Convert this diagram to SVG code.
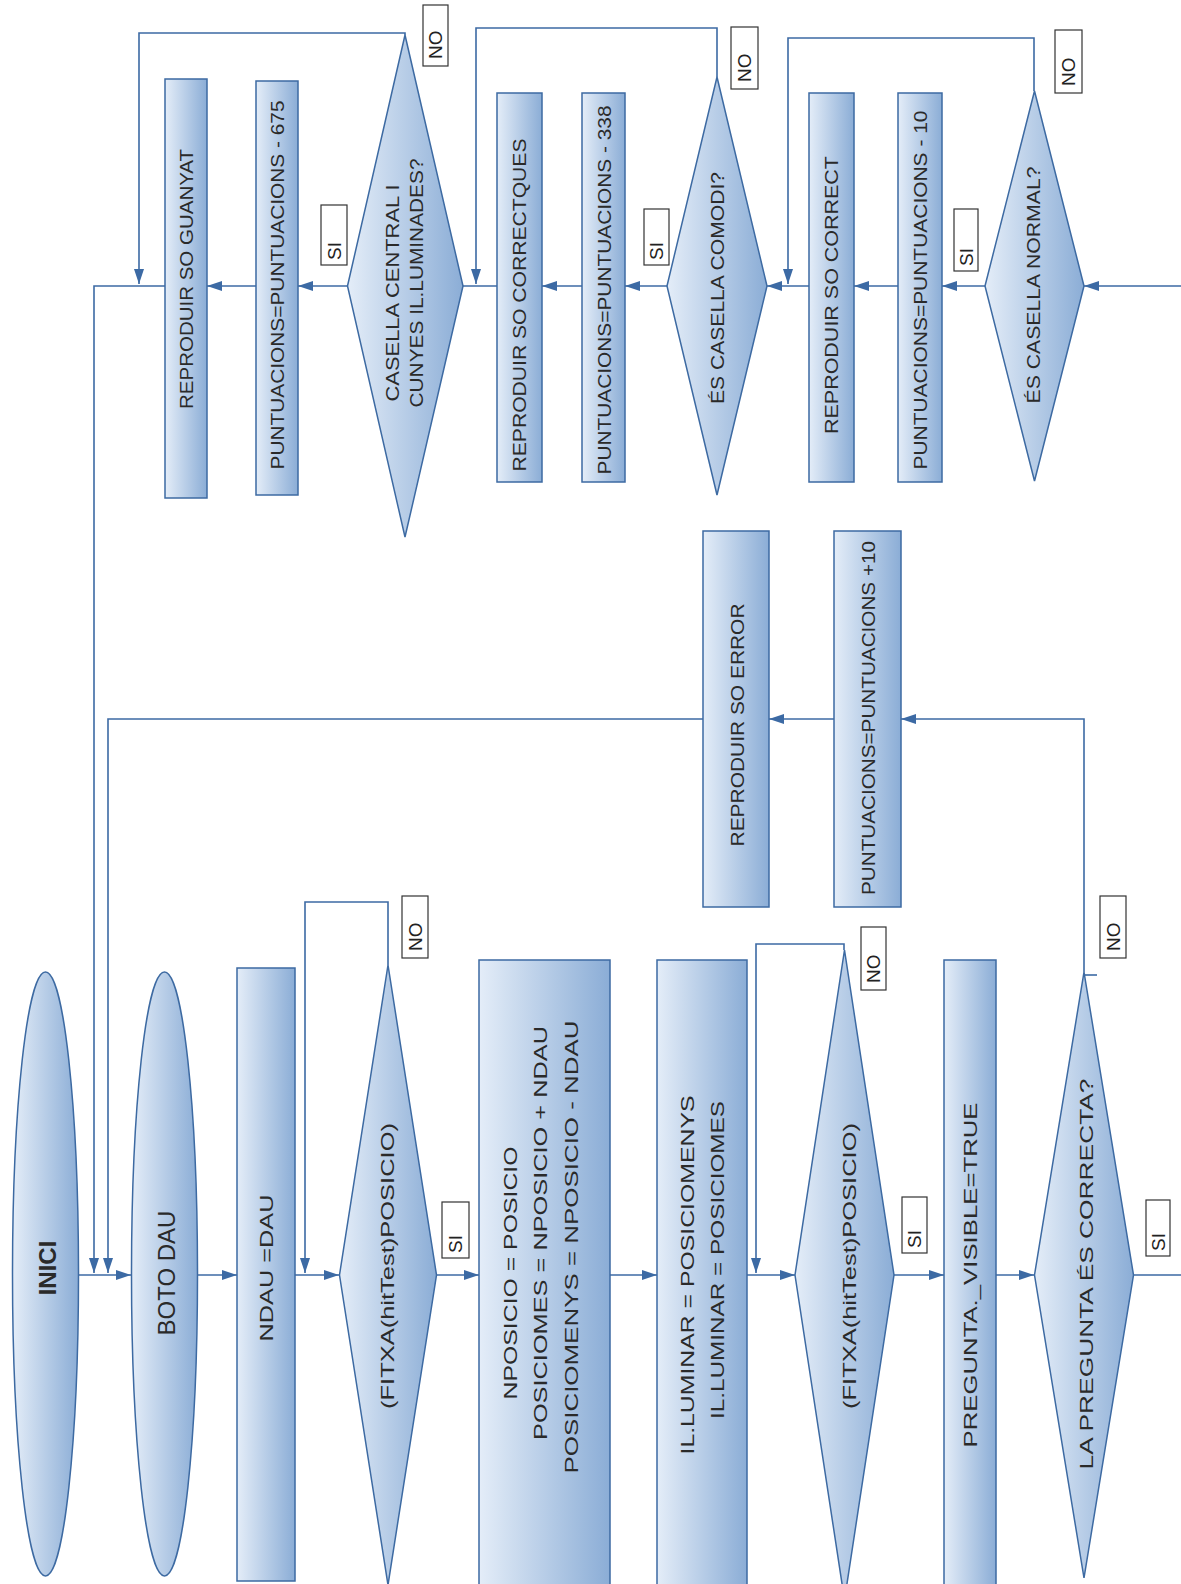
<svg xmlns="http://www.w3.org/2000/svg" width="1181" height="1584" viewBox="0 0 1181 1584">
<defs>
<linearGradient id="g" x1="0" y1="0" x2="1" y2="0">
<stop offset="0" stop-color="#e4edf8"/>
<stop offset="1" stop-color="#8badd6"/>
</linearGradient>
<marker id="ah" viewBox="0 0 15 10" refX="15" refY="5" markerWidth="15" markerHeight="10" markerUnits="userSpaceOnUse" orient="auto">
<path d="M0,0 L15,5 L0,10 z" fill="#3c6aa4"/>
</marker>
<style>
.s{fill:url(#g);stroke:#3d6aa2;stroke-width:1.5}
.t{font-family:"Liberation Sans",Arial,sans-serif;font-size:19px;fill:#2a2a2a;text-anchor:middle;dominant-baseline:central}
.b{font-size:24px;font-weight:bold}
.m{font-size:24px}
.lb{fill:#fff;stroke:#333;stroke-width:1.2}
.lt{font-family:"Liberation Sans",Arial,sans-serif;font-size:19px;fill:#222;text-anchor:start;dominant-baseline:central}
.c{fill:none;stroke:#3c6aa4;stroke-width:1.6}
.a{marker-end:url(#ah)}
</style>
</defs>
<rect width="1181" height="1584" fill="#fff"/>

<g id="connectors">
<path class="c a" d="M79,1275 H131"/>
<path class="c a" d="M198,1275 H237"/>
<path class="c a" d="M295,1275 H339"/>
<path class="c a" d="M436,1275 H479"/>
<path class="c a" d="M610,1275 H657"/>
<path class="c a" d="M747,1275 H795"/>
<path class="c a" d="M894,1275 H944"/>
<path class="c a" d="M996,1275 H1034"/>
<path class="c a" d="M1133,1275 H1183 V286 H1084"/>
<path class="c a" d="M388,965 V902 H305 V1273"/>
<path class="c a" d="M844,950 V944 H756 V1273"/>
<path class="c a" d="M1084,972 V719 H901"/>
<path class="c" d="M1084,975 H1097"/>
<path class="c a" d="M834,719 H769"/>
<path class="c a" d="M703,719 H108 V1273"/>
<path class="c a" d="M985,286 H942"/>
<path class="c a" d="M898,286 H854"/>
<path class="c a" d="M809,286 H767"/>
<path class="c a" d="M667,286 H625"/>
<path class="c a" d="M582,286 H542"/>
<path class="c" d="M497,286 H463"/>
<path class="c a" d="M347,286 H298"/>
<path class="c a" d="M256,286 H207"/>
<path class="c a" d="M165,286 H94 V1273"/>
<path class="c a" d="M1034,91 V38 H788 V284"/>
<path class="c a" d="M717,77 V28 H476 V284"/>
<path class="c a" d="M405,35 V33 H139 V284"/>
</g>

<g id="inici"><ellipse class="s" cx="45.5" cy="1274" rx="33" ry="302"/><text class="t b" transform="translate(47,1268) rotate(-90)">INICI</text></g>
<g id="boto-dau"><ellipse class="s" cx="164.5" cy="1274" rx="33" ry="302"/><text class="t m" transform="translate(166,1273) rotate(-90)">BOTO DAU</text></g>
<g id="ndau"><rect class="s" x="237" y="968" width="58" height="613"/><text class="t" transform="translate(266,1268) rotate(-90)" textLength="147" lengthAdjust="spacingAndGlyphs">NDAU =DAU</text></g>
<g id="fitxa1"><polygon class="s" points="339.5,1275 388,965 436.5,1275 388,1585"/><text class="t" transform="translate(387,1266) rotate(-90)" textLength="286" lengthAdjust="spacingAndGlyphs">(FITXA(hitTest)POSICIO)</text></g>
<g id="nposicio"><rect class="s" x="479" y="960" width="131" height="640"/>
<text class="t" transform="translate(510,1273) rotate(-90)" textLength="253" lengthAdjust="spacingAndGlyphs">NPOSICIO = POSICIO</text>
<text class="t" transform="translate(540,1233) rotate(-90)" textLength="414" lengthAdjust="spacingAndGlyphs">POSICIOMES = NPOSICIO + NDAU</text>
<text class="t" transform="translate(571,1247) rotate(-90)" textLength="453" lengthAdjust="spacingAndGlyphs">POSICIOMENYS = NPOSICIO - NDAU</text></g>
<g id="illuminar"><rect class="s" x="657" y="960" width="90" height="640"/>
<text class="t" transform="translate(687,1275) rotate(-90)" textLength="359" lengthAdjust="spacingAndGlyphs">IL.LUMINAR = POSICIOMENYS</text>
<text class="t" transform="translate(717,1260) rotate(-90)" textLength="318" lengthAdjust="spacingAndGlyphs">IL.LUMINAR = POSICIOMES</text></g>
<g id="fitxa2"><polygon class="s" points="795,1275 844.5,950 894,1275 844.5,1600"/><text class="t" transform="translate(849,1266) rotate(-90)" textLength="286" lengthAdjust="spacingAndGlyphs">(FITXA(hitTest)POSICIO)</text></g>
<g id="pregunta-visible"><rect class="s" x="944" y="960" width="52" height="640"/><text class="t" transform="translate(970,1275) rotate(-90)" textLength="345" lengthAdjust="spacingAndGlyphs">PREGUNTA._VISIBLE=TRUE</text></g>
<g id="pregunta-correcta"><polygon class="s" points="1034.5,1275 1084,972 1133.5,1275 1084,1578"/><text class="t" transform="translate(1086,1274) rotate(-90)" textLength="391" lengthAdjust="spacingAndGlyphs">LA PREGUNTA ÉS CORRECTA?</text></g>

<g id="so-error"><rect class="s" x="703" y="531" width="66" height="376"/><text class="t" transform="translate(737,725) rotate(-90)" textLength="243" lengthAdjust="spacingAndGlyphs">REPRODUIR SO ERROR</text></g>
<g id="punt-plus10"><rect class="s" x="834" y="531" width="67" height="376"/><text class="t" transform="translate(868,718) rotate(-90)" textLength="354" lengthAdjust="spacingAndGlyphs">PUNTUACIONS=PUNTUACIONS +10</text></g>

<g id="so-guanyat"><rect class="s" x="165" y="79" width="42" height="419"/><text class="t" transform="translate(186,279) rotate(-90)" textLength="260" lengthAdjust="spacingAndGlyphs">REPRODUIR SO GUANYAT</text></g>
<g id="punt-675"><rect class="s" x="256" y="81" width="42" height="414"/><text class="t" transform="translate(277,285) rotate(-90)" textLength="369" lengthAdjust="spacingAndGlyphs">PUNTUACIONS=PUNTUACIONS - 675</text></g>
<g id="casella-central"><polygon class="s" points="347.5,286 405,35 463,286 405,537"/>
<text class="t" transform="translate(392,293) rotate(-90)" textLength="217" lengthAdjust="spacingAndGlyphs">CASELLA CENTRAL I</text>
<text class="t" transform="translate(416,283) rotate(-90)" textLength="249" lengthAdjust="spacingAndGlyphs">CUNYES  IL.LUMINADES?</text></g>
<g id="so-correctques"><rect class="s" x="497" y="93" width="45" height="389"/><text class="t" transform="translate(519,305) rotate(-90)" textLength="333" lengthAdjust="spacingAndGlyphs">REPRODUIR SO CORRECTQUES</text></g>
<g id="punt-338"><rect class="s" x="582" y="93" width="43" height="389"/><text class="t" transform="translate(604,290) rotate(-90)" textLength="369" lengthAdjust="spacingAndGlyphs">PUNTUACIONS=PUNTUACIONS - 338</text></g>
<g id="casella-comodi"><polygon class="s" points="667,286 717,77 767,286 717,495"/><text class="t" transform="translate(717,288) rotate(-90)" textLength="232" lengthAdjust="spacingAndGlyphs">ÉS CASELLA COMODI?</text></g>
<g id="so-correct"><rect class="s" x="809" y="93" width="45" height="389"/><text class="t" transform="translate(831,295) rotate(-90)" textLength="278" lengthAdjust="spacingAndGlyphs">REPRODUIR SO CORRECT</text></g>
<g id="punt-10"><rect class="s" x="898" y="93" width="44" height="389"/><text class="t" transform="translate(920,290) rotate(-90)" textLength="359" lengthAdjust="spacingAndGlyphs">PUNTUACIONS=PUNTUACIONS - 10</text></g>
<g id="casella-normal"><polygon class="s" points="985,286 1034.5,91 1084,286 1034.5,481"/><text class="t" transform="translate(1033,285) rotate(-90)" textLength="237" lengthAdjust="spacingAndGlyphs">ÉS CASELLA NORMAL?</text></g>

<g id="labels">
<rect class="lb" x="402" y="896" width="26" height="62"/><text class="lt" transform="translate(415,951) rotate(-90)">NO</text>
<rect class="lb" x="442" y="1202" width="27" height="56"/><text class="lt" transform="translate(455.5,1253) rotate(-90)">SI</text>
<rect class="lb" x="861" y="927" width="25" height="63"/><text class="lt" transform="translate(873.5,983) rotate(-90)">NO</text>
<rect class="lb" x="902" y="1197" width="25" height="56"/><text class="lt" transform="translate(914.5,1248) rotate(-90)">SI</text>
<rect class="lb" x="1100" y="896" width="26" height="62"/><text class="lt" transform="translate(1113,951) rotate(-90)">NO</text>
<rect class="lb" x="1146" y="1200" width="24" height="56"/><text class="lt" transform="translate(1158,1251) rotate(-90)">SI</text>
<rect class="lb" x="423" y="5" width="25" height="61"/><text class="lt" transform="translate(435.5,59) rotate(-90)">NO</text>
<rect class="lb" x="321" y="205" width="26" height="60"/><text class="lt" transform="translate(334,260) rotate(-90)">SI</text>
<rect class="lb" x="731" y="27" width="27" height="62"/><text class="lt" transform="translate(744.5,82) rotate(-90)">NO</text>
<rect class="lb" x="644" y="209" width="25" height="56"/><text class="lt" transform="translate(656.5,260) rotate(-90)">SI</text>
<rect class="lb" x="1055" y="30" width="27" height="63"/><text class="lt" transform="translate(1068.5,86) rotate(-90)">NO</text>
<rect class="lb" x="954" y="209" width="24" height="62"/><text class="lt" transform="translate(966,266) rotate(-90)">SI</text>
</g>
</svg>
